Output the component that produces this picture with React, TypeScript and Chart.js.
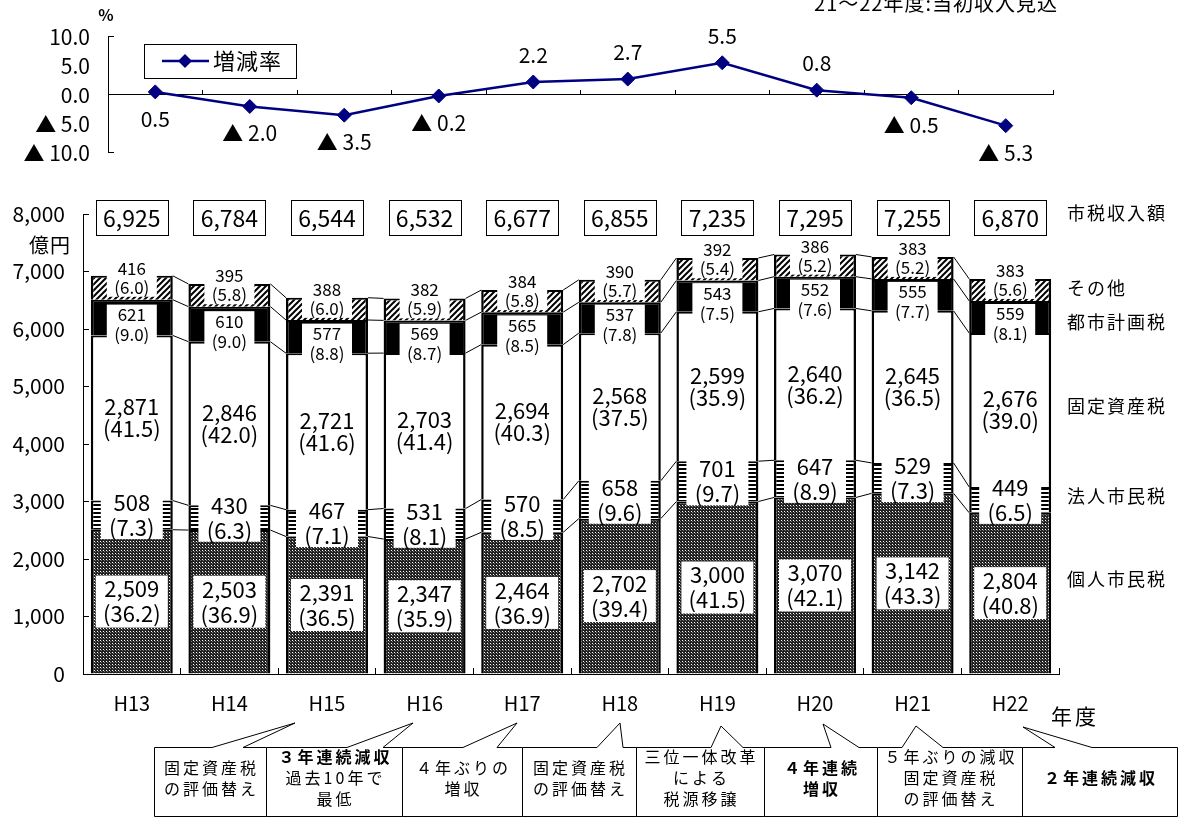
import React, { useEffect, useRef } from 'react';
import { Chart, registerables } from 'chart.js';

Chart.register(...registerables);

const FONT = '"Noto Sans CJK JP", "Noto Sans", sans-serif';

// ---------------- data ----------------
const years = ['H13', 'H14', 'H15', 'H16', 'H17', 'H18', 'H19', 'H20', 'H21', 'H22'];
const growthRate = [0.5, -2.0, -3.5, -0.2, 2.2, 2.7, 5.5, 0.8, -0.5, -5.3];

const kojin = [2509, 2503, 2391, 2347, 2464, 2702, 3000, 3070, 3142, 2804];
const kojinPct = [36.2, 36.9, 36.5, 35.9, 36.9, 39.4, 41.5, 42.1, 43.3, 40.8];
const houjin = [508, 430, 467, 531, 570, 658, 701, 647, 529, 449];
const houjinPct = [7.3, 6.3, 7.1, 8.1, 8.5, 9.6, 9.7, 8.9, 7.3, 6.5];
const kotei = [2871, 2846, 2721, 2703, 2694, 2568, 2599, 2640, 2645, 2676];
const koteiPct = [41.5, 42.0, 41.6, 41.4, 40.3, 37.5, 35.9, 36.2, 36.5, 39.0];
const toshi = [621, 610, 577, 569, 565, 537, 543, 552, 555, 559];
const toshiPct = [9.0, 9.0, 8.8, 8.7, 8.5, 7.8, 7.5, 7.6, 7.7, 8.1];
const sonota = [416, 395, 388, 382, 384, 390, 392, 386, 383, 383];
const sonotaPct = [6.0, 5.8, 6.0, 5.9, 5.8, 5.7, 5.4, 5.2, 5.2, 5.6];
const totals = [6925, 6784, 6544, 6532, 6677, 6855, 7235, 7295, 7255, 6870];

const seriesNames = ['個人市民税', '法人市民税', '固定資産税', '都市計画税', 'その他'];
const seriesValues = [kojin, houjin, kotei, toshi, sonota];
const seriesPcts = [kojinPct, houjinPct, koteiPct, toshiPct, sonotaPct];

const amountMin = 0;
const amountMax = 8000;
const amountStep = 1000;
const rateMin = -10;
const rateMax = 10;
const rateStep = 5;

const notes: string[][] = [
  ['固定資産税', 'の評価替え'],
  ['３年連続減収', '過去10年で', '最低'],
  ['４年ぶりの', '増収'],
  ['固定資産税', 'の評価替え'],
  ['三位一体改革', 'による', '税源移譲'],
  ['４年連続', '増収'],
  ['５年ぶりの減収', '固定資産税', 'の評価替え'],
  ['２年連続減収'],
];
const notesBold: boolean[][] = [
  [false, false],
  [true, false, false],
  [false, false],
  [false, false],
  [false, false, false],
  [true, true],
  [false, false, false],
  [true],
];

// ---------------- styles / layout ----------------
const rateLabelAbove = [false, false, false, false, true, true, true, true, false, false];
const segStyles = [
  { font: 22, gap: 25, boxW: 72, boxH: 52, dy: 0 },
  { font: 22, gap: 25, boxW: 62, boxH: 48, dy: 0 },
  { font: 22, gap: 22, boxW: 0, boxH: 0, dy: 0 },
  { font: 17, gap: 20, boxW: 50, boxH: 40, dy: 7 },
  { font: 17, gap: 19, boxW: 50, boxH: 38, dy: -10 },
];
const sideLabels: [string, number][] = [
  ['市税収入額', 213],
  ['その他', 288],
  ['都市計画税', 322],
  ['固定資産税', 406],
  ['法人市民税', 496],
  ['個人市民税', 579],
];
const noteEdges = [154, 266, 402, 522, 636, 764, 877, 1022, 1177];
const noteWedges = [
  [212, 243, 295, 723],
  [347, 383, 413, 723],
  [463, 497, 517, 723],
  [597, 623, 620, 723],
  [711, 743, 721, 726],
  [831, 859, 823, 724],
  [902, 943, 916, 726],
  [1055, 1092, 1023, 727],
];

function fmtRate(v: number) {
  return v < 0 ? '▲ ' + Math.abs(v).toFixed(1) : v.toFixed(1);
}
function fmtAmt(v: number) {
  return v.toLocaleString('en-US');
}

function makePattern(kind: string): CanvasPattern | string {
  if (kind === 'white') return '#ffffff';
  if (kind === 'black') return '#000000';
  const c = document.createElement('canvas');
  const g = c.getContext('2d')!;
  if (kind === 'dots') {
    c.width = 3; c.height = 3;
    g.fillStyle = '#222222'; g.fillRect(0, 0, 3, 3);
    g.fillStyle = '#ffffff'; g.fillRect(1, 1, 1, 1);
    g.fillStyle = '#777777'; g.fillRect(2, 2, 1, 1);
  } else if (kind === 'hstripe') {
    c.width = 4; c.height = 4;
    g.fillStyle = '#ffffff'; g.fillRect(0, 0, 4, 4);
    g.fillStyle = '#000000'; g.fillRect(0, 0, 4, 2);
  } else if (kind === 'diag') {
    c.width = 6; c.height = 6;
    g.fillStyle = '#ffffff'; g.fillRect(0, 0, 6, 6);
    g.strokeStyle = '#000000'; g.lineWidth = 2;
    g.beginPath();
    g.moveTo(0, 6); g.lineTo(6, 0);
    g.moveTo(-3, 3); g.lineTo(3, -3);
    g.moveTo(3, 9); g.lineTo(9, 3);
    g.stroke();
  }
  return g.createPattern(c, 'repeat')!;
}

function drawDiamond(ctx: CanvasRenderingContext2D, x: number, y: number, r: number) {
  ctx.beginPath();
  ctx.moveTo(x - r, y); ctx.lineTo(x, y - r); ctx.lineTo(x + r, y); ctx.lineTo(x, y + r);
  ctx.closePath();
  ctx.fill();
}

// ---------------- plugins ----------------
const linePlugin = {
  id: 'lineDecor',
  afterDatasetsDraw(chart: any) {
    const ctx: CanvasRenderingContext2D = chart.ctx;
    const meta = chart.getDatasetMeta(0);
    ctx.save();
    ctx.fillStyle = '#000';
    ctx.font = `21px ${FONT}`;
    ctx.textAlign = 'center';
    ctx.textBaseline = 'middle';
    meta.data.forEach((pt: any, i: number) => {
      const y = pt.y + (rateLabelAbove[i] ? -27 : 27);
      ctx.fillText(fmtRate(growthRate[i]), pt.x, y);
    });
    // legend
    ctx.strokeStyle = '#000'; ctx.lineWidth = 1;
    ctx.strokeRect(144.5, 44.5, 152, 34);
    ctx.strokeStyle = '#000080'; ctx.lineWidth = 2.5;
    ctx.beginPath(); ctx.moveTo(162, 61); ctx.lineTo(209, 61); ctx.stroke();
    ctx.fillStyle = '#000080';
    drawDiamond(ctx, 185, 61, 7);
    ctx.fillStyle = '#000';
    ctx.font = `22px ${FONT}`;
    ctx.textAlign = 'left';
    (ctx as any).letterSpacing = '1px';
    ctx.fillText('増減率', 213, 61);
    (ctx as any).letterSpacing = '0px';
    // unit
    ctx.font = `bold 16px ${FONT}`;
    ctx.textAlign = 'center';
    ctx.fillText('%', 106, 15);
    // note
    ctx.font = `20px ${FONT}`;
    ctx.textAlign = 'right';
    ctx.textBaseline = 'alphabetic';
    (ctx as any).letterSpacing = '1px';
    ctx.fillText('21～22年度:当初収入見込', 1058, 11);
    (ctx as any).letterSpacing = '0px';
    ctx.restore();
  },
};

const barPlugin = {
  id: 'barDecor',
  afterDatasetsDraw(chart: any) {
    const ctx: CanvasRenderingContext2D = chart.ctx;
    const metas = seriesNames.map((_, d) => chart.getDatasetMeta(d));
    ctx.save();
    // series lines
    ctx.strokeStyle = '#000';
    ctx.lineWidth = 1;
    metas.forEach((meta: any) => {
      for (let i = 0; i < meta.data.length - 1; i++) {
        const a: any = meta.data[i];
        const b: any = meta.data[i + 1];
        ctx.beginPath();
        ctx.moveTo(a.x + a.width / 2, a.y);
        ctx.lineTo(b.x - b.width / 2, b.y);
        ctx.stroke();
      }
    });
    // segment labels
    ctx.textAlign = 'center';
    ctx.textBaseline = 'middle';
    metas.forEach((meta: any, d: number) => {
      const st = segStyles[d];
      meta.data.forEach((el: any, i: number) => {
        const cx = el.x;
        const cy = (el.y + el.base) / 2 + st.dy;
        if (st.boxW) {
          ctx.fillStyle = '#fff';
          ctx.fillRect(cx - st.boxW / 2, cy - st.boxH / 2, st.boxW, st.boxH);
        }
        ctx.fillStyle = '#000';
        ctx.font = `${st.font}px ${FONT}`;
        ctx.fillText(fmtAmt(seriesValues[d][i]), cx, cy - st.gap / 2);
        ctx.fillText('(' + seriesPcts[d][i].toFixed(1) + ')', cx, cy + st.gap / 2);
      });
    });
    // totals
    const topY = chart.chartArea.top + 3;
    ctx.font = `23px ${FONT}`;
    metas[4].data.forEach((el: any, i: number) => {
      ctx.fillStyle = '#fff';
      ctx.fillRect(el.x - 36, topY - 17.5, 72, 35);
      ctx.strokeStyle = '#000';
      ctx.lineWidth = 1;
      ctx.strokeRect(Math.round(el.x - 36) + 0.5, Math.round(topY - 17.5) + 0.5, 72, 35);
      ctx.fillStyle = '#000';
      ctx.fillText(fmtAmt(totals[i]), el.x, topY + 1);
    });
    ctx.restore();
  },
  afterDraw(chart: any) {
    const ctx: CanvasRenderingContext2D = chart.ctx;
    ctx.save();
    ctx.fillStyle = '#000';
    ctx.textBaseline = 'middle';
    // side labels
    ctx.textAlign = 'left';
    ctx.font = `18px ${FONT}`;
    (ctx as any).letterSpacing = '2px';
    sideLabels.forEach(([t, y]) => ctx.fillText(t, 1067, y));
    // unit labels
    ctx.font = `20px ${FONT}`;
    (ctx as any).letterSpacing = '1px';
    ctx.textAlign = 'center';
    ctx.fillText('億円', 50, 245);
    ctx.font = `21px ${FONT}`;
    (ctx as any).letterSpacing = '3px';
    ctx.fillText('年度', 1075, 716);
    // callout boxes
    const top = 747.5;
    const bottom = 816.5;
    ctx.lineWidth = 1;
    ctx.strokeStyle = '#000';
    for (let k = 0; k < notes.length; k++) {
      const l = noteEdges[k] + 0.5;
      const r = noteEdges[k + 1] + 0.5;
      const [b1, b2, tx, ty] = noteWedges[k];
      ctx.beginPath();
      ctx.moveTo(l, top);
      ctx.lineTo(b1, top);
      ctx.lineTo(tx, ty);
      ctx.lineTo(b2, top);
      ctx.lineTo(r, top);
      ctx.lineTo(r, bottom);
      ctx.lineTo(l, bottom);
      ctx.closePath();
      ctx.fillStyle = '#fff';
      ctx.fill();
      ctx.stroke();
    }
    ctx.fillStyle = '#000';
    ctx.textAlign = 'center';
    (ctx as any).letterSpacing = '3px';
    for (let k = 0; k < notes.length; k++) {
      const cx = (noteEdges[k] + noteEdges[k + 1]) / 2 + 1.5;
      const lines = notes[k];
      const cy = 778;
      const lh = 21;
      lines.forEach((t, j) => {
        ctx.font = `${notesBold[k][j] ? 'bold ' : ''}16px ${FONT}`;
        ctx.fillText(t, cx, cy + (j - (lines.length - 1) / 2) * lh);
      });
    }
    (ctx as any).letterSpacing = '0px';
    ctx.restore();
  },
};

export default function App() {
  const lineRef = useRef<HTMLCanvasElement>(null);
  const barRef = useRef<HTMLCanvasElement>(null);

  useEffect(() => {
    document.body.style.margin = '0';
    Chart.defaults.font.family = FONT;
    Chart.defaults.color = '#000';

    const patterns = [
      makePattern('dots'),
      makePattern('hstripe'),
      makePattern('white'),
      makePattern('black'),
      makePattern('diag'),
    ];

    const bar = new Chart(barRef.current!, {
      type: 'bar',
      data: {
        labels: years,
        datasets: seriesNames.map((name, d) => ({
          label: name,
          data: seriesValues[d],
          backgroundColor: patterns[d] as any,
          borderColor: '#000',
          borderWidth: { top: 2, left: 2.5, right: 2.5, bottom: 0 } as any,
          borderSkipped: false,
          barPercentage: 0.84,
          categoryPercentage: 1,
          stack: 'tax',
        })),
      },
      options: {
        animation: false,
        responsive: false,
        events: [],
        layout: { padding: { left: 0, top: 214, right: 121, bottom: 84 } },
        plugins: { legend: { display: false }, tooltip: { enabled: false } },
        scales: {
          x: {
            stacked: true,
            grid: { drawOnChartArea: false, tickLength: -6, color: '#000', offset: true },
            border: { color: '#000', width: 1 },
            ticks: { color: '#000', font: { size: 20 }, padding: 23 },
            afterFit: (s: any) => { s.height = 60; },
          },
          y: {
            stacked: true,
            min: amountMin,
            max: amountMax,
            ticks: {
              stepSize: amountStep,
              color: '#000',
              font: { size: 21 },
              padding: 24,
              callback: (v: any) => fmtAmt(Number(v)),
            },
            grid: { drawOnChartArea: false, tickLength: -6, color: '#000' },
            border: { color: '#000', width: 1 },
            afterFit: (s: any) => { s.width = 83; },
          },
        },
      } as any,
      plugins: [barPlugin],
    });

    const line = new Chart(lineRef.current!, {
      type: 'line',
      data: {
        labels: years,
        datasets: [
          {
            label: '増減率',
            data: growthRate,
            borderColor: '#000080',
            backgroundColor: '#000080',
            borderWidth: 2.5,
            pointStyle: 'rectRot',
            pointRadius: 7,
            pointBackgroundColor: '#000080',
            pointBorderColor: '#000080',
            pointBorderWidth: 1,
            tension: 0,
            clip: false as any,
          },
        ],
      },
      options: {
        animation: false,
        responsive: false,
        events: [],
        layout: { padding: { left: 0, top: 33, right: 127, bottom: 665 } },
        plugins: { legend: { display: false }, tooltip: { enabled: false } },
        scales: {
          x: {
            type: 'category',
            offset: true,
            position: { y: 0 },
            grid: { display: true, drawOnChartArea: false, tickLength: -5, color: '#000', offset: true },
            border: { display: true, color: '#000', width: 1 },
            ticks: { display: false },
            afterFit: (s: any) => { s.height = 0; },
          },
          y: {
            min: rateMin,
            max: rateMax,
            ticks: {
              stepSize: rateStep,
              color: '#000',
              font: { size: 21 },
              padding: 24,
              callback: (v: any) => fmtRate(Number(v)),
            },
            grid: {
              drawOnChartArea: false,
              tickLength: -6,
              color: (c: any) => (c.tick && Math.abs(c.tick.value) === 10 ? '#000' : 'rgba(0,0,0,0)'),
            },
            border: { color: '#000', width: 1 },
            afterFit: (s: any) => { s.width = 108; },
          },
        },
      } as any,
      plugins: [linePlugin],
    });

    return () => {
      bar.destroy();
      line.destroy();
    };
  }, []);

  return (
    <div style={{ position: 'relative', width: 1180, height: 818, background: '#fff', overflow: 'hidden' }}>
      <canvas ref={barRef} width={1180} height={818} style={{ position: 'absolute', left: 0, top: 0 }} />
      <canvas ref={lineRef} width={1180} height={818} style={{ position: 'absolute', left: 0, top: 0 }} />
    </div>
  );
}
